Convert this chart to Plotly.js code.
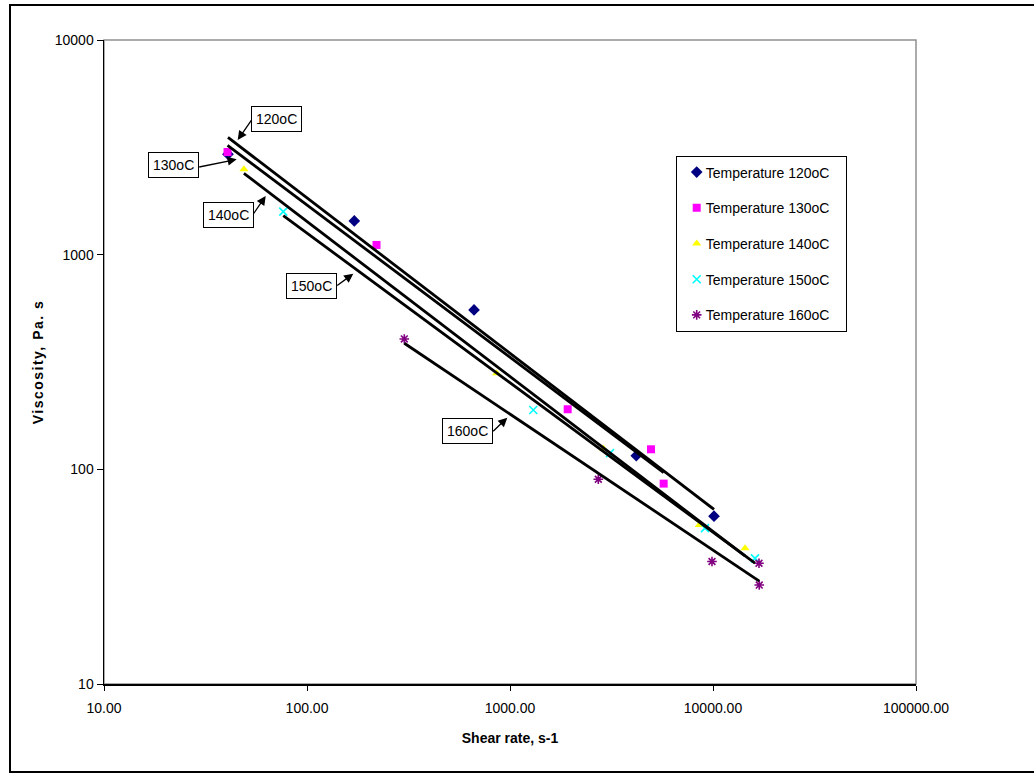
<!DOCTYPE html>
<html><head><meta charset="utf-8">
<script src="https://cdn.plot.ly/plotly-3.0.1.min.js"></script>
<style>
html,body{margin:0;padding:0;background:#fff;overflow:hidden;}
#wrap{position:relative;width:1034px;height:774px;overflow:hidden;}
#chart{width:1034px;height:774px;}
#frame{position:absolute;left:9px;top:4px;width:1040px;height:769px;border:2px solid #000;pointer-events:none;box-sizing:border-box;}
.ytitle{letter-spacing:1.5px;}
</style></head>
<body><div id="wrap"><div id="chart"></div><div id="frame"></div></div>
<script>
// ---- data ----
const seriesNames = ["Temperature 120oC","Temperature 130oC","Temperature 140oC","Temperature 150oC","Temperature 160oC"];
const shear120 = [40.8, 171, 665, 4188, 10115];
const visc120  = [2940, 1436, 553, 115.8, 60.5];
const shear130 = [40.6, 220, 1924, 4950, 5715];
const visc130  = [3008, 1110, 190.5, 124, 85.8];
const shear140 = [48.9, 860, 2882, 8560, 14380];
const visc140  = [2498, 280, 125, 55, 42.9];
const shear150 = [76.4, 1302, 3109, 9132, 16100];
const visc150  = [1586, 189, 118.9, 53.2, 38.5];
const shear160 = [301.5, 2723, 9886, 16850, 16900];
const visc160  = [405, 89.9, 37.2, 36.5, 28.9];
const labelTexts = ["120oC","130oC","140oC","150oC","160oC"];
const xTickVals = [10, 100, 1000, 10000, 100000];
const yTickVals = [10, 100, 1000, 10000];

// ---- styles ----
const colors = ["#000080","#FF00FF","#FFFF00","#00FFFF","#800080"];
const symbols = ["diamond","square","triangle-up","x-thin-open","asterisk-open"];
const sizes = [9,8,8,8,8];
const xs = [shear120, shear130, shear140, shear150, shear160];
const ys = [visc120, visc130, visc140, visc150, visc160];

function powerFit(x, y){
  const lx = x.map(Math.log10), ly = y.map(Math.log10);
  const n = lx.length;
  const mx = lx.reduce((a,b)=>a+b,0)/n, my = ly.reduce((a,b)=>a+b,0)/n;
  let sxy=0, sxx=0;
  for(let i=0;i<n;i++){ sxy += (lx[i]-mx)*(ly[i]-my); sxx += (lx[i]-mx)*(lx[i]-mx); }
  const b = sxy/sxx, a = my - b*mx;
  const xmin = Math.min(...x), xmax = Math.max(...x);
  return {x:[xmin,xmax], y:[Math.pow(10,a+b*Math.log10(xmin)), Math.pow(10,a+b*Math.log10(xmax))]};
}

const traces = [];
for(let i=0;i<5;i++){
  const isLine = symbols[i].indexOf("open")>=0;
  traces.push({
    type:"scatter", mode:"markers", x:xs[i], y:ys[i], name:seriesNames[i],
    legendgroup:"g"+i,
    marker:{symbol:symbols[i], size:sizes[i], color:colors[i],
            line:{color:colors[i], width: isLine?1.6:0}},
    hoverinfo:"x+y"
  });
}
for(let i=0;i<5;i++){
  const f = powerFit(xs[i], ys[i]);
  traces.push({type:"scatter", mode:"lines", x:f.x, y:f.y, showlegend:false,
    line:{color:"#000", width:2.8}, hoverinfo:"skip"});
}

// annotation geometry in page pixels -> paper coords
const L=104, T=40, W=812, H=644;
const px = v => (v-L)/W;
const py = v => (T+H-v)/H;
const boxCenters = [[276.7,118.7],[173,164.5],[228.8,214.7],[311.7,285.9],[467.8,430.9]];
const arrowTails = [[252.7,118.3],[197.7,167.3],[252.7,215],[335.7,286.7],[491.7,432.7]];
const arrowTips  = [[237.7,140],[236.7,159.3],[265.7,196],[353.3,273.7],[507.3,417.7]];
const annotations = [];
for(let i=0;i<5;i++){
  annotations.push({xref:"paper", yref:"paper", x:px(boxCenters[i][0]), y:py(boxCenters[i][1]),
    text:labelTexts[i], showarrow:false, bordercolor:"#000", borderwidth:1, borderpad:4,
    bgcolor:"#fff", font:{family:"Liberation Sans, Arial", size:14, color:"#000"},
    xanchor:"center", yanchor:"middle"});
  annotations.push({xref:"paper", yref:"paper", x:px(arrowTips[i][0]), y:py(arrowTips[i][1]),
    text:"", showarrow:true, arrowhead:2, arrowsize:1.4, arrowwidth:1.3, arrowcolor:"#000",
    ax:arrowTails[i][0]-arrowTips[i][0], ay:arrowTails[i][1]-arrowTips[i][1], standoff:0, startstandoff:0});
}

const layout = {
  width:1034, height:774,
  margin:{l:L, r:1034-L-W, t:T, b:774-T-H},
  paper_bgcolor:"#fff", plot_bgcolor:"#fff",
  font:{family:"Liberation Sans, Arial", size:14, color:"#000"},
  showlegend:true,
  legend:{x:px(675.7), y:py(155.5), xanchor:"left", yanchor:"top",
    bordercolor:"#000", borderwidth:1, bgcolor:"#fff", tracegroupgap:14.5,
    traceorder:"grouped", font:{size:14}},
  xaxis:{type:"log", range:[1,5], tickvals:xTickVals, tickformat:".2f",
    showgrid:false, zeroline:false, showline:true, linecolor:"#000", linewidth:1.5,
    ticks:"outside", ticklen:5, tickcolor:"#000", tickwidth:1, ticklabelstandoff:6,
    title:{text:"<b>Shear rate, s-1</b>", standoff:18, font:{size:14}}},
  yaxis:{type:"log", range:[1,4], tickvals:yTickVals, tickformat:"d",
    showgrid:false, zeroline:false, showline:true, linecolor:"#000", linewidth:1.5,
    ticks:"outside", ticklen:6, tickcolor:"#000", tickwidth:1,
    title:{text:"<b>Viscosity, Pa. s</b>", standoff:8, font:{size:14}}},
  shapes:[{type:"rect", xref:"paper", yref:"paper", x0:0, x1:1, y0:0, y1:1,
    line:{color:"#909090", width:1.5}, layer:"below"}],
  annotations:annotations
};
Plotly.newPlot("chart", traces, layout, {displayModeBar:false, staticPlot:true}).then(function(gd){
  // Excel places legend text closer to the marker than Plotly does
  gd.querySelectorAll(".legendtext").forEach(function(t){
    t.setAttribute("x", parseFloat(t.getAttribute("x")) - 11);
  });
});
</script>
</body></html>
